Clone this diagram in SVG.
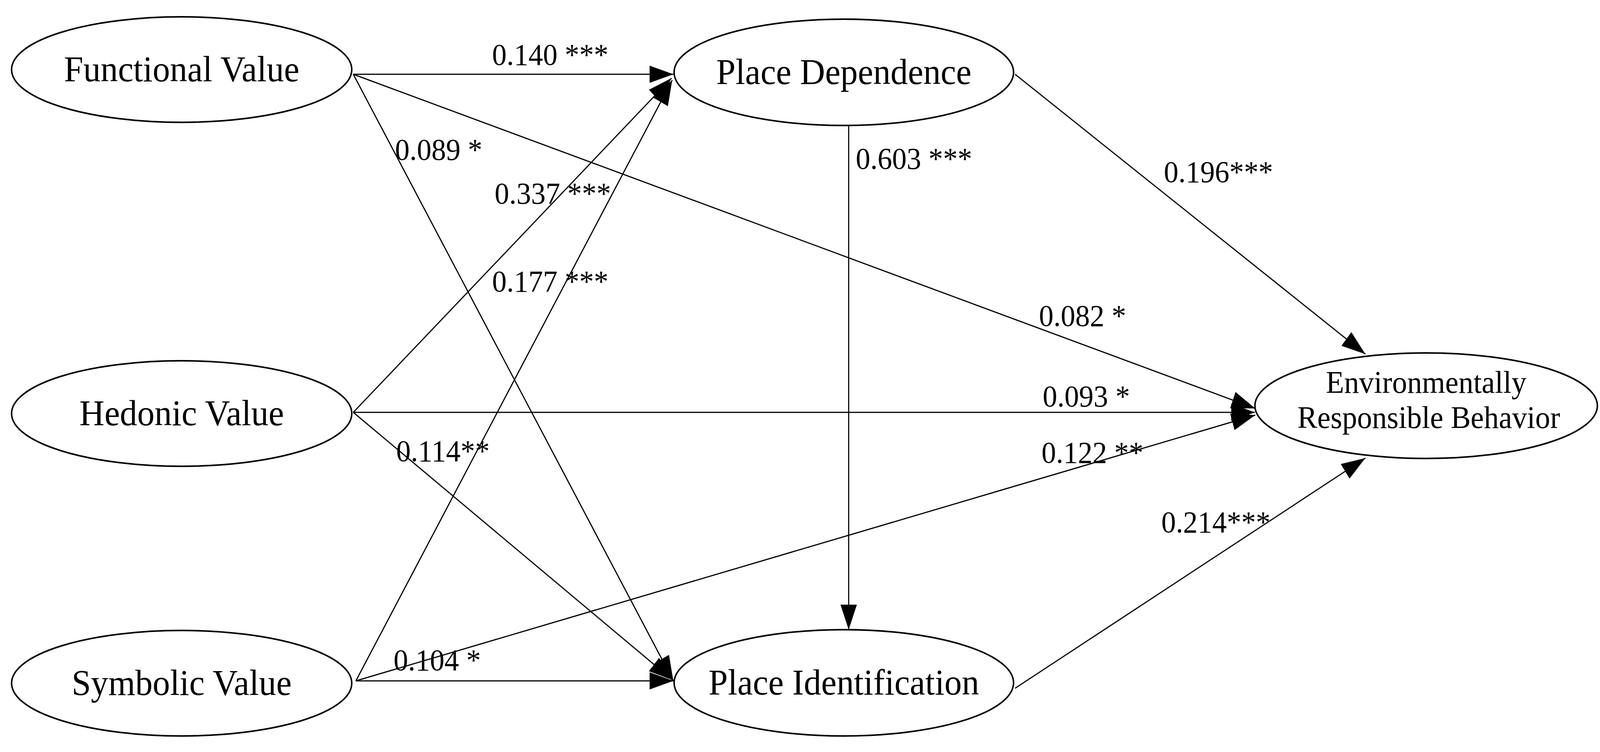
<svg xmlns="http://www.w3.org/2000/svg" width="4295" height="1924" viewBox="0 0 4295 1924">
<style>
.n{fill:#fff;stroke:#000;stroke-width:4}
.t{font-family:"Liberation Serif",serif;font-size:93px;text-anchor:middle;fill:#000}
.s{font-family:"Liberation Serif",serif;font-size:80px;text-anchor:middle;fill:#000}
.l{font-family:"Liberation Serif",serif;font-size:78px;fill:#000}
.e{stroke:#000;stroke-width:3;fill:none;marker-end:url(#a)}
</style>
<defs><marker id="a" markerUnits="userSpaceOnUse" markerWidth="70" markerHeight="50" refX="64" refY="22" orient="auto"><path d="M0,0 L64,22 L0,44 Z" fill="#000"/></marker></defs>
<rect width="4295" height="1924" fill="#fff"/>
<g transform="scale(0.955,1)">
<g id="connectors">
<line class="e" x1="947" y1="190" x2="1805" y2="190"/>
<line class="e" x1="947" y1="190" x2="3365" y2="1045"/>
<line class="e" x1="947" y1="190" x2="1805" y2="1742"/>
<line class="e" x1="947" y1="1055" x2="1800" y2="200"/>
<line class="e" x1="947" y1="1055" x2="3364" y2="1055"/>
<line class="e" x1="947" y1="1055" x2="1803" y2="1740"/>
<line class="e" x1="954" y1="1742" x2="1802" y2="205"/>
<line class="e" x1="954" y1="1742" x2="1805" y2="1742"/>
<line class="e" x1="954" y1="1742" x2="3365" y2="1062"/>
<line class="e" x1="2275" y1="321" x2="2275" y2="1611"/>
<line class="e" x1="2721" y1="190" x2="3660" y2="906"/>
<line class="e" x1="2721" y1="1761" x2="3660" y2="1172"/>
</g>
<g id="fv"><ellipse class="n" cx="487" cy="178" rx="456" ry="135"/><text class="t" x="487" y="208">Functional Value</text></g>
<g id="hv"><ellipse class="n" cx="487" cy="1058" rx="456" ry="135"/><text class="t" x="487" y="1088">Hedonic Value</text></g>
<g id="sv"><ellipse class="n" cx="487" cy="1748" rx="456" ry="135"/><text class="t" x="487" y="1778">Symbolic Value</text></g>
<g id="pd"><ellipse class="n" cx="2262" cy="185" rx="455" ry="136"/><text class="t" x="2262" y="215">Place Dependence</text></g>
<g id="pi"><ellipse class="n" cx="2262" cy="1747" rx="455" ry="136"/><text class="t" x="2262" y="1777">Place Identification</text></g>
<g id="erb"><ellipse class="n" cx="3823" cy="1038" rx="459" ry="135"/><text class="s" x="3823" y="1005">Environmentally</text><text class="s" x="3830" y="1095">Responsible Behavior</text></g>
<g id="labels">
<text class="l" x="1319" y="166">0.140 ***</text>
<text class="l" x="1059" y="409">0.089 *</text>
<text class="l" x="1326" y="521">0.337 ***</text>
<text class="l" x="1319" y="746">0.177 ***</text>
<text class="l" x="1062" y="1180">0.114**</text>
<text class="l" x="1055" y="1715">0.104 *</text>
<text class="l" x="2294" y="432">0.603 ***</text>
<text class="l" x="3120" y="466">0.196***</text>
<text class="l" x="2785" y="834">0.082 *</text>
<text class="l" x="2795" y="1040">0.093 *</text>
<text class="l" x="2792" y="1184">0.122 **</text>
<text class="l" x="3113" y="1362">0.214***</text>
</g>
</g>
</svg>
